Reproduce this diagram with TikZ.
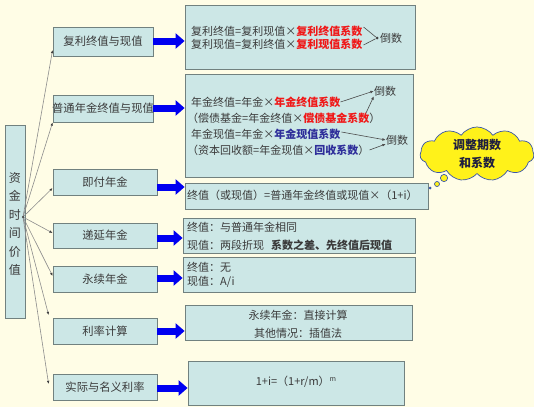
\documentclass[tikz,border=0pt]{standalone}
\usepackage{fontspec}
\setmainfont{Noto Sans CJK SC}
\usetikzlibrary{arrows.meta,shapes.symbols,calc}
\definecolor{bg}{HTML}{FFFDE6}
\definecolor{boxfill}{HTML}{CCE7E6}
\definecolor{boxline}{HTML}{71817F}
\definecolor{txt}{HTML}{3A3A3A}
\definecolor{redtxt}{HTML}{F01818}
\definecolor{navytxt}{HTML}{2E2E9A}
\definecolor{arrowblue}{HTML}{0000F0}
\definecolor{cloudfill}{HTML}{FFF21A}
\definecolor{cloudline}{HTML}{3A56A8}
\definecolor{cloudtxt}{HTML}{1E1E40}
\begin{document}
\begin{tikzpicture}[x=1pt,y=-1pt,
  box/.style={draw=boxline,fill=boxfill,line width=0.8pt,inner sep=0pt},
  lbl/.style={text=txt,font=\fontsize{11}{13}\selectfont,inner sep=0pt},
  catlbl/.style={text=txt,font=\fontsize{11.3}{13}\selectfont,inner sep=0pt},
  bluearr/.style={draw=arrowblue,line width=7pt,-{Triangle[length=9pt,width=15pt]}},
  branch/.style={draw=black!45,line width=0.6pt,-{Latex[length=3.2pt,width=2.6pt,color=black!75]}},
  thin/.style={draw=black!70,line width=0.6pt},
  thinarr/.style={draw=black!70,line width=0.6pt,-{Latex[length=3.5pt,width=2.8pt]}},
]
\fill[bg] (0,0) rectangle (534,407);
\useasboundingbox (0,0) rectangle (534,407);

% root box
\node[box,minimum width=20pt,minimum height=193pt] (root) at (15,221.5) {};
\node[text=txt,font=\fontsize{12}{18.4}\selectfont,align=center,inner sep=0pt] (roottxt) at (15,224) {资\\金\\时\\间\\价\\值};
\coordinate (hub) at (23,217);

% category boxes
\node[box,minimum width=100pt,minimum height=29pt] (c1) at (103,41.5) {};
\node[catlbl] at (c1) {复利终值与现值};
\node[box,minimum width=100pt,minimum height=27pt] (c2) at (103,108.5) {};
\node[catlbl] at (c2) {普通年金终值与现值};
\node[box,minimum width=104pt,minimum height=26pt] (c3) at (105,182) {};
\node[catlbl] at (c3) {即付年金};
\node[box,minimum width=104pt,minimum height=25pt] (c4) at (105,235.5) {};
\node[catlbl] at (c4) {递延年金};
\node[box,minimum width=104pt,minimum height=26pt] (c5) at (105,279) {};
\node[catlbl] at (c5) {永续年金};
\node[box,minimum width=104pt,minimum height=26pt] (c6) at (105,331) {};
\node[catlbl] at (c6) {利率计算};
\node[box,minimum width=104pt,minimum height=26pt] (c7) at (105,387) {};
\node[catlbl] at (c7) {实际与名义利率};

% branches
\draw[branch] (hub) -- (c1.west|-0,50);
\draw[branch] (hub) -- (c2.south west);
\draw[branch] (hub) -- (c3.west|-0,188);
\draw[branch] (hub) -- (c4.west|-0,233);
\draw[branch] (hub) -- (c5.west|-0,276);
\draw[branch] (hub) -- ($(c6.west|-0,315)+(-4,0)$);
\draw[branch] (hub) -- ($(c7.west|-0,384)+(-4,0)$);
\fill[black!75] (hub) circle (1.2pt);

% right boxes
\node[box,minimum width=230pt,minimum height=64pt] (r1) at (300,37) {};
\node[box,minimum width=228pt,minimum height=103pt] (r2) at (299,125.5) {};
\node[box,minimum width=243pt,minimum height=26pt] (r3) at (306.5,196) {};
\node[box,minimum width=232pt,minimum height=35pt] (r4) at (299,235.5) {};
\node[box,minimum width=232pt,minimum height=35pt] (r5) at (299,274.5) {};
\node[box,minimum width=227pt,minimum height=35pt] (r6) at (298.5,322.5) {};
\node[box,minimum width=216pt,minimum height=44pt] (r7) at (296,383) {};

% blue arrows
\draw[bluearr] (c1.east|-0,41) -- (r1.west|-0,41);
\draw[bluearr] (c2.east|-0,108) -- (r2.west|-0,108);
\draw[bluearr] (c3.east|-0,187) -- (r3.west|-0,187);
\draw[bluearr] (c4.east|-0,238) -- (r4.west|-0,238);
\draw[bluearr] (c5.east|-0,278) -- (r5.west|-0,278);
\draw[bluearr] (c6.east|-0,331) -- (r6.west|-0,331);
\draw[bluearr] (c7.east|-0,388) -- (r7.west|-0,388);

% r1 text
\node[lbl,anchor=west] (r1a) at (191,31) {复利终值=复利现值×\textcolor{redtxt}{\bfseries 复利终值系数}};
\node[lbl,anchor=west] (r1b) at (191,44) {复利现值=复利终值×\textcolor{redtxt}{\bfseries 复利现值系数}};
\node[circle,fill=black!75,inner sep=0pt,minimum size=3pt] (d1) at (377,38) {};
\node[lbl,anchor=west] (inv1) at (380,38) {倒数};
\draw[thin] ($(r1a.east)+(1,-4)$) -- (d1);
\draw[thin] ($(r1b.east)+(1,1)$) -- (d1);

% r2 text
\node[lbl,anchor=west] (r2a) at (191,102) {年金终值=年金×\textcolor{redtxt}{\bfseries 年金终值系数}};
\node[lbl,anchor=west] (r2b) at (187,118) {（偿债基金=年金终值×\textcolor{redtxt}{\bfseries 偿债基金系数}）};
\node[lbl,anchor=west] (r2c) at (191,134) {年金现值=年金×\textcolor{navytxt}{\bfseries 年金现值系数}};
\node[lbl,anchor=west] (r2d) at (187,150) {（资本回收额=年金现值×\textcolor{navytxt}{\bfseries 回收系数}）};
\node[lbl] (inv2) at (385,91) {倒数};
\node[lbl] (inv3) at (397,140) {倒数};
\coordinate (p2b) at (366,113);
\draw[thinarr] (r2a.east) -- (inv2.west);
\draw[thinarr] (p2b) -- (inv2.south west);
\draw[thinarr] ($(r2c.east)+(1,-2)$) -- (inv3.west);
\draw[thinarr] (r2d.east) -- ($(inv3.west)+(0,4)$);

% r3 text
\node[lbl,anchor=west] (r3a) at (187,195) {终值（或现值）=普通年金终值或现值×（1+i）};

% cloud
\node[cloud,cloud puffs=11,cloud puff arc=110,aspect=2.3,draw=cloudline,fill=cloudfill,line width=0.7pt,minimum width=114pt,minimum height=54pt,inner sep=0pt,align=center,text=cloudtxt,font=\fontsize{12}{18}\selectfont\bfseries] (cl) at (477,154) {调整期数\\和系数};
\draw[draw=cloudline,fill=cloudfill,line width=0.7pt] (444,178) circle (3.6pt);
\draw[draw=cloudline,fill=cloudfill,line width=0.7pt] (437,184) circle (2.5pt);
\fill[cloudline] (430,188) circle (1.5pt);

% r4 text
\node[lbl,anchor=west] (r4a) at (187,227.5) {终值：与普通年金相同};
\node[lbl,anchor=west] (r4b) at (187,245) {现值：两段折现\hspace{7pt}{\bfseries 系数之差、先终值后现值}};

% r5 text
\node[lbl,anchor=west] (r5a) at (187,267) {终值：无};
\node[lbl,anchor=west] (r5b) at (187,282) {现值：A/i};

% r6 text
\node[lbl] (r6a) at (298,315) {永续年金：直接计算};
\node[lbl] (r6b) at (298,333) {其他情况：插值法};

% r7 text
\node[lbl] (r7a) at (296,382) {1+i=（1+r/m）\raisebox{4pt}{\fontsize{7}{8}\selectfont m}};
\end{tikzpicture}
\end{document}
